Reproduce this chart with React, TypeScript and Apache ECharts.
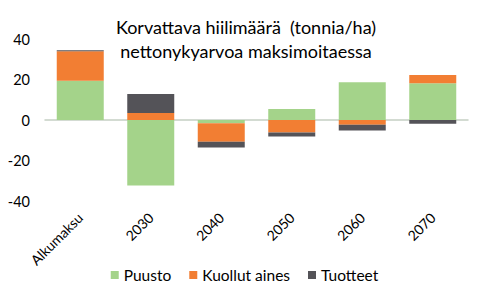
import React, { useEffect, useRef } from "react";
import * as echarts from "echarts";

const categories = ["Alkumaksu", "2030", "2040", "2050", "2060", "2070"];
const puusto = [19.4, -32.4, -1.6, 5.4, 18.7, 18.2];
const kuollut = [14.6, 3.4, -9.2, -6.2, -2.4, 4.0];
const tuotteet = [0.5, 9.5, -2.8, -2.0, -2.8, -1.8];
const yTicks = [-40, -20, 0, 20, 40];

const FONT = "Lato, 'Open Sans', sans-serif";

export default function App() {
  const ref = useRef<HTMLDivElement>(null);
  useEffect(() => {
    if (!ref.current) return;
    const chart = echarts.init(ref.current, null, { renderer: "svg" });
    const mk = (name: string, data: number[], color: string) => ({
      name,
      type: "bar",
      stack: "total",
      data,
      barWidth: 47,
      itemStyle: { color },
      emphasis: { disabled: true },
    });
    chart.setOption({
      animation: false,
      textStyle: { fontFamily: FONT },
      title: {
        text: "Korvattava hiilimäärä  (tonnia/ha)\nnettonykyarvoa maksimoitaessa",
        left: 241,
        textAlign: "center",
        top: 10,
        textStyle: {
          fontFamily: FONT,
          fontSize: 18,
          fontWeight: "normal",
          color: "#000",
          lineHeight: 24,
        },
      },
      grid: { left: 45, right: 21, top: 39, height: 162, containLabel: false },
      legend: {
        left: "center",
        top: 262,
        itemWidth: 8,
        itemHeight: 8,
        itemGap: 18,
        icon: "rect",
        textStyle: { fontFamily: FONT, fontSize: 15.5, color: "#000" },
        data: ["Puusto", "Kuollut aines", "Tuotteet"],
      },
      xAxis: {
        type: "category",
        data: categories,
        axisLine: { onZero: true, lineStyle: { color: "#C5CFC4", width: 1.5 } },
        axisTick: { show: false },
        axisLabel: {
          rotate: 45,
          interval: 0,
          fontSize: 14,
          color: "#000",
          fontFamily: FONT,
          margin: 14,
        },
        position: "bottom",
      },
      yAxis: {
        type: "value",
        min: yTicks[0],
        max: yTicks[yTicks.length - 1],
        interval: 20,
        axisLine: { show: false },
        axisTick: { show: false },
        splitLine: { show: false },
        axisLabel: { fontSize: 14.5, color: "#000", fontFamily: FONT, margin: 15 },
      },
      series: [
        mk("Puusto", puusto, "#A4D38A"),
        mk("Kuollut aines", kuollut, "#F27E33"),
        mk("Tuotteet", tuotteet, "#545358"),
      ],
    });
    return () => chart.dispose();
  }, []);
  return <div ref={ref} style={{ width: 489, height: 298, margin: -8 }} />;
}
